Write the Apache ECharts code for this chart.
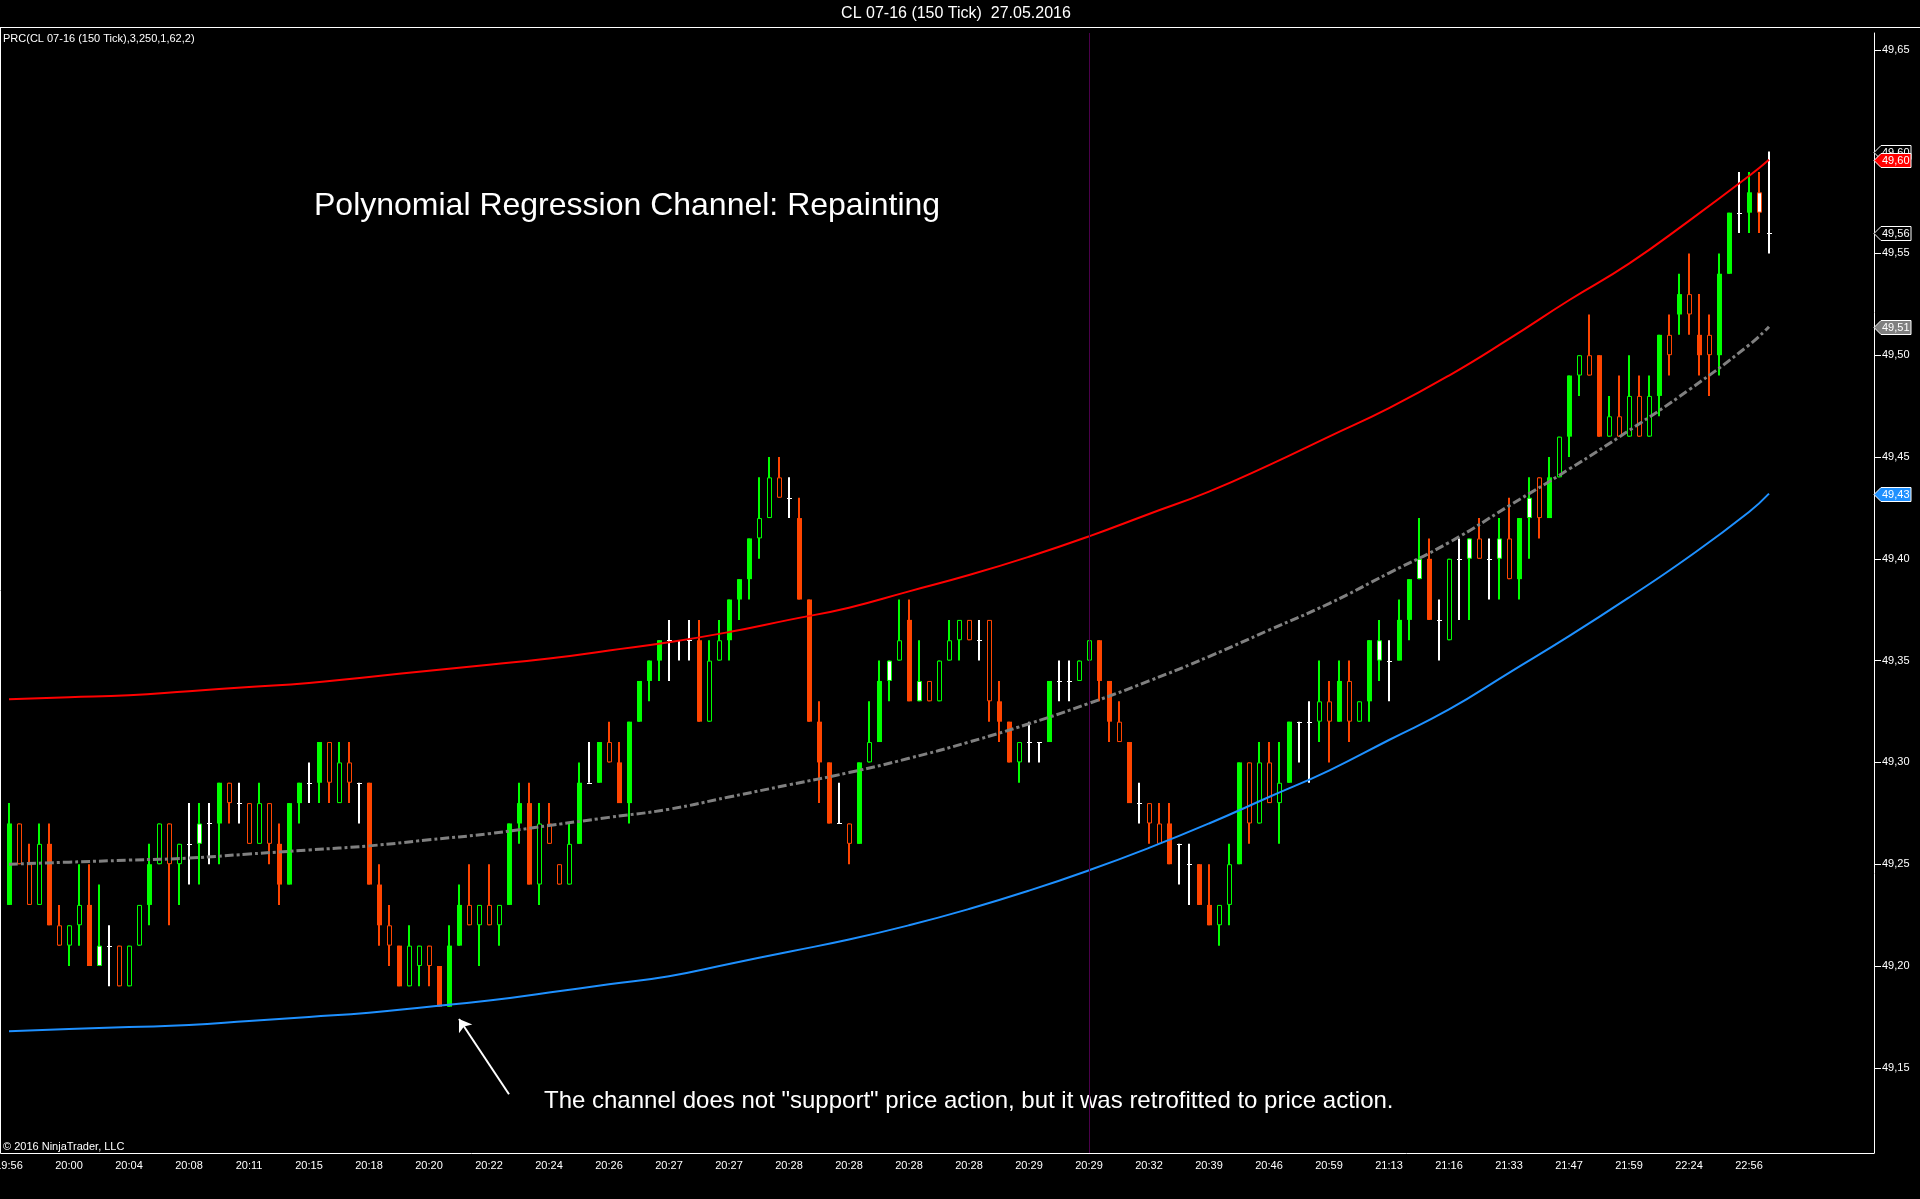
<!DOCTYPE html>
<html>
<head>
<meta charset="utf-8">
<title>CL 07-16 (150 Tick) - Polynomial Regression Channel</title>
<script src="https://cdn.jsdelivr.net/npm/echarts@6.0.0/dist/echarts.min.js"></script>
<style>
html, body { margin: 0; padding: 0; background: #000; overflow: hidden; }
#chart { width: 1920px; height: 1199px; }
</style>
</head>
<body>
<div id="chart"></div>
<script>
// x axis tick labels, one every 6 bars
var tickLabels = ['19:56', '20:00', '20:04', '20:08', '20:11', '20:15', '20:18', '20:20', '20:22', '20:24',
	'20:26', '20:27', '20:27', '20:28', '20:28', '20:28', '20:28', '20:29', '20:29', '20:32',
	'20:39', '20:46', '20:59', '21:13', '21:16', '21:33', '21:47', '21:59', '22:24', '22:56'];

// price axis labels
var priceTicks = [49.15, 49.20, 49.25, 49.30, 49.35, 49.40, 49.45, 49.50, 49.55, 49.60, 49.65];

// 150 tick bars
var opens = [
	49.23, 49.27, 49.25, 49.23, 49.26, 49.22, 49.21, 49.22, 49.23, 49.20,
	49.21, 49.21, 49.19, 49.21, 49.23, 49.25, 49.27, 49.25, 49.26, 49.26,
	49.27, 49.27, 49.29, 49.28, 49.28, 49.26, 49.28, 49.26, 49.24, 49.28,
	49.29, 49.29, 49.31, 49.28, 49.30, 49.29, 49.29, 49.24, 49.22, 49.21,
	49.19, 49.20, 49.21, 49.20, 49.18, 49.21, 49.23, 49.22, 49.23, 49.22,
	49.23, 49.27, 49.28, 49.24, 49.27, 49.25, 49.24, 49.26, 49.29, 49.29,
	49.31, 49.30, 49.28, 49.32, 49.34, 49.35, 49.36, 49.36, 49.36, 49.36,
	49.32, 49.35, 49.36, 49.38, 49.39, 49.41, 49.42, 49.44, 49.43, 49.42,
	49.38, 49.32, 49.30, 49.27, 49.27, 49.26, 49.30, 49.31, 49.34, 49.35,
	49.37, 49.33, 49.34, 49.33, 49.35, 49.36, 49.37, 49.36, 49.37, 49.33,
	49.32, 49.30, 49.31, 49.31, 49.31, 49.34, 49.34, 49.34, 49.35, 49.36,
	49.34, 49.32, 49.31, 49.28, 49.28, 49.27, 49.27, 49.26, 49.25, 49.25,
	49.23, 49.22, 49.23, 49.25, 49.30, 49.27, 49.30, 49.28, 49.29, 49.32,
	49.32, 49.32, 49.33, 49.32, 49.34, 49.32, 49.33, 49.35, 49.35, 49.35,
	49.37, 49.39, 49.40, 49.37, 49.36, 49.40, 49.40, 49.41, 49.40, 49.40,
	49.41, 49.39, 49.42, 49.44, 49.42, 49.44, 49.46, 49.49, 49.50, 49.50,
	49.46, 49.47, 49.46, 49.48, 49.46, 49.48, 49.51, 49.52, 49.53, 49.51,
	49.51, 49.50, 49.54, 49.57, 49.57, 49.58, 49.56
];
var highs = [
	49.28, 49.27, 49.26, 49.27, 49.27, 49.23, 49.22, 49.25, 49.25, 49.24,
	49.22, 49.21, 49.21, 49.23, 49.26, 49.27, 49.27, 49.26, 49.28, 49.28,
	49.28, 49.29, 49.29, 49.29, 49.28, 49.29, 49.28, 49.27, 49.28, 49.29,
	49.30, 49.31, 49.31, 49.31, 49.31, 49.29, 49.29, 49.25, 49.23, 49.21,
	49.22, 49.21, 49.21, 49.20, 49.22, 49.24, 49.25, 49.23, 49.25, 49.23,
	49.27, 49.29, 49.29, 49.28, 49.28, 49.25, 49.27, 49.30, 49.31, 49.31,
	49.32, 49.31, 49.32, 49.34, 49.35, 49.36, 49.37, 49.36, 49.37, 49.37,
	49.36, 49.37, 49.38, 49.39, 49.41, 49.44, 49.45, 49.45, 49.44, 49.43,
	49.38, 49.33, 49.30, 49.29, 49.27, 49.30, 49.33, 49.35, 49.35, 49.38,
	49.38, 49.36, 49.34, 49.35, 49.37, 49.37, 49.37, 49.37, 49.37, 49.34,
	49.32, 49.31, 49.32, 49.31, 49.34, 49.35, 49.35, 49.35, 49.36, 49.36,
	49.34, 49.33, 49.31, 49.29, 49.28, 49.28, 49.28, 49.26, 49.26, 49.25,
	49.25, 49.23, 49.26, 49.30, 49.30, 49.31, 49.31, 49.31, 49.32, 49.32,
	49.33, 49.35, 49.34, 49.35, 49.35, 49.33, 49.36, 49.37, 49.36, 49.38,
	49.39, 49.42, 49.41, 49.38, 49.40, 49.41, 49.41, 49.42, 49.41, 49.42,
	49.43, 49.42, 49.44, 49.44, 49.45, 49.46, 49.49, 49.50, 49.52, 49.50,
	49.48, 49.49, 49.50, 49.49, 49.49, 49.51, 49.52, 49.54, 49.55, 49.53,
	49.52, 49.55, 49.57, 49.59, 49.59, 49.59, 49.60
];
var lows = [
	49.23, 49.25, 49.23, 49.23, 49.22, 49.21, 49.20, 49.21, 49.20, 49.20,
	49.19, 49.19, 49.19, 49.21, 49.22, 49.25, 49.22, 49.23, 49.24, 49.24,
	49.25, 49.25, 49.27, 49.27, 49.26, 49.26, 49.25, 49.23, 49.24, 49.27,
	49.28, 49.28, 49.28, 49.28, 49.28, 49.27, 49.24, 49.21, 49.20, 49.19,
	49.19, 49.19, 49.19, 49.18, 49.18, 49.21, 49.22, 49.20, 49.22, 49.21,
	49.23, 49.26, 49.24, 49.23, 49.26, 49.24, 49.24, 49.26, 49.29, 49.29,
	49.30, 49.28, 49.27, 49.32, 49.33, 49.34, 49.34, 49.35, 49.35, 49.32,
	49.32, 49.35, 49.35, 49.37, 49.38, 49.40, 49.42, 49.43, 49.42, 49.38,
	49.32, 49.28, 49.27, 49.27, 49.25, 49.26, 49.30, 49.31, 49.33, 49.35,
	49.33, 49.33, 49.33, 49.33, 49.35, 49.35, 49.36, 49.35, 49.32, 49.31,
	49.30, 49.29, 49.30, 49.30, 49.31, 49.33, 49.33, 49.34, 49.35, 49.33,
	49.31, 49.31, 49.28, 49.27, 49.26, 49.26, 49.25, 49.24, 49.23, 49.23,
	49.22, 49.21, 49.22, 49.25, 49.26, 49.27, 49.28, 49.26, 49.29, 49.30,
	49.29, 49.31, 49.30, 49.32, 49.31, 49.32, 49.32, 49.34, 49.33, 49.35,
	49.36, 49.39, 49.37, 49.35, 49.36, 49.37, 49.37, 49.40, 49.38, 49.38,
	49.39, 49.38, 49.40, 49.41, 49.42, 49.44, 49.45, 49.48, 49.49, 49.46,
	49.46, 49.46, 49.46, 49.46, 49.46, 49.47, 49.49, 49.51, 49.51, 49.49,
	49.48, 49.49, 49.54, 49.56, 49.56, 49.56, 49.55
];
var closes = [
	49.27, 49.25, 49.23, 49.26, 49.22, 49.21, 49.22, 49.23, 49.20, 49.21,
	49.21, 49.19, 49.21, 49.23, 49.25, 49.27, 49.25, 49.26, 49.26, 49.27,
	49.27, 49.29, 49.28, 49.28, 49.26, 49.28, 49.26, 49.24, 49.28, 49.29,
	49.29, 49.31, 49.29, 49.30, 49.29, 49.29, 49.24, 49.22, 49.21, 49.19,
	49.21, 49.21, 49.20, 49.18, 49.21, 49.23, 49.22, 49.23, 49.22, 49.23,
	49.27, 49.28, 49.24, 49.27, 49.26, 49.24, 49.26, 49.29, 49.29, 49.31,
	49.30, 49.28, 49.32, 49.34, 49.35, 49.36, 49.36, 49.36, 49.36, 49.32,
	49.35, 49.36, 49.38, 49.39, 49.41, 49.42, 49.44, 49.43, 49.43, 49.38,
	49.32, 49.30, 49.27, 49.27, 49.26, 49.30, 49.31, 49.34, 49.35, 49.36,
	49.33, 49.34, 49.33, 49.35, 49.36, 49.37, 49.36, 49.36, 49.33, 49.32,
	49.30, 49.31, 49.31, 49.31, 49.34, 49.34, 49.34, 49.35, 49.36, 49.34,
	49.32, 49.31, 49.28, 49.28, 49.27, 49.26, 49.25, 49.26, 49.25, 49.23,
	49.22, 49.23, 49.25, 49.30, 49.27, 49.30, 49.28, 49.29, 49.32, 49.32,
	49.32, 49.33, 49.32, 49.34, 49.32, 49.33, 49.36, 49.36, 49.35, 49.37,
	49.39, 49.40, 49.37, 49.37, 49.40, 49.40, 49.41, 49.40, 49.40, 49.41,
	49.39, 49.42, 49.43, 49.42, 49.44, 49.46, 49.49, 49.50, 49.49, 49.46,
	49.47, 49.46, 49.48, 49.46, 49.48, 49.51, 49.50, 49.53, 49.52, 49.50,
	49.50, 49.54, 49.57, 49.57, 49.58, 49.57, 49.56
];
// body state per bar: F filled, H hollow, W white inside, D doji
var bodyStates = ('FHHHFHHHFW' + 'DHHHFHHHDW' + 'DFHDHHHFFF' + 'DFHHHDFFHF' + 'HHHFFFHHHH' +
	'FFFHHHHFDF' + 'HFFFFFDDDF' + 'HHFFFHHHDF' + 'FFFDHFHFWH' + 'FWHHHHHDHF' +
	'FHDDFDDHHF' + 'FHFDHHFDDF' + 'FHHFHHHHFD' + 'DHHFHHFWDF' + 'FWFDHDWHDW' +
	'HFWHFHFHHF' + 'HHHHHFHFHF' + 'HFFDFWD').split('');

// regression channel, read every 6 bars
var channelBars = [0, 6, 12, 18, 24, 30, 36, 42, 48, 54, 60, 66, 72, 78, 84, 90,
	96, 102, 108, 114, 120, 126, 132, 138, 144, 150, 156, 162, 168, 174, 176];
var upperBand = [49.331, 49.332, 49.333, 49.335, 49.337, 49.339, 49.342, 49.345, 49.348, 49.351,
	49.355, 49.359, 49.364, 49.370, 49.376, 49.384, 49.392, 49.401, 49.411, 49.422,
	49.433, 49.446, 49.460, 49.474, 49.490, 49.508, 49.527, 49.545, 49.566, 49.588, 49.596];
var middleLine = [49.250, 49.251, 49.252, 49.253, 49.255, 49.257, 49.259, 49.262, 49.265, 49.269,
	49.273, 49.277, 49.283, 49.289, 49.295, 49.302, 49.310, 49.319, 49.329, 49.340,
	49.352, 49.365, 49.378, 49.393, 49.408, 49.426, 49.444, 49.463, 49.483, 49.505, 49.514];
var lowerBand = [49.168, 49.169, 49.170, 49.171, 49.173, 49.175, 49.177, 49.180, 49.183, 49.187,
	49.191, 49.195, 49.201, 49.207, 49.213, 49.220, 49.228, 49.237, 49.247, 49.258,
	49.270, 49.283, 49.296, 49.311, 49.326, 49.344, 49.362, 49.381, 49.401, 49.423, 49.432];

var FONT = '"Liberation Sans", Arial, sans-serif';
var UP = '#00ff00', DOWN = '#ff4500', DOJI = '#ffffff';
var GRID = { left: 4, right: 46, top: 33, bottom: 46 };
var EMPTY_SLOTS = 10;   // free space right of the last bar
var TICK_EVERY = 6;
var MARKER_BAR = 108;   // purple vertical line

var categories = [];
for (var i = 0; i < opens.length + EMPTY_SLOTS; i++) {
	categories.push(String(i));
}

var candleData = [];
for (var i = 0; i < opens.length; i++) {
	candleData.push([i, opens[i], closes[i], lows[i], highs[i]]);
}

function pairs(values) {
	var out = [];
	for (var k = 0; k < channelBars.length; k++) {
		out.push([channelBars[k], values[k]]);
	}
	return out;
}

function fmtPrice(v) {
	return Number(v).toFixed(2).replace('.', ',');
}

function isTickBar(index) {
	return index % TICK_EVERY === 0 && index / TICK_EVERY < tickLabels.length;
}

function renderCandle(params, api) {
	var i = api.value(0);
	var o = api.value(1), c = api.value(2), lo = api.value(3), hi = api.value(4);
	var pO = api.coord([i, o]);
	var x = Math.round(pO[0]);
	var yO = pO[1];
	var yC = api.coord([i, c])[1];
	var yH = api.coord([i, hi])[1];
	var yL = api.coord([i, lo])[1];
	var color = c > o ? UP : (c < o ? DOWN : DOJI);
	var state = bodyStates[i];
	var top = Math.min(yO, yC);
	var h = Math.abs(yO - yC);
	var children = [{
		type: 'line',
		shape: { x1: x, y1: yH, x2: x, y2: yL },
		style: { stroke: color, lineWidth: 2 }
	}];
	if (c === o) {
		var yt = Math.round(yO) + 0.5;
		children.push({
			type: 'line',
			shape: { x1: x - 2, y1: yt, x2: x + 3, y2: yt },
			style: { stroke: color, lineWidth: 1 }
		});
	} else if (state === 'F') {
		children.push({
			type: 'rect',
			shape: { x: x - 2, y: top, width: 5, height: h },
			style: { fill: color }
		});
	} else {
		children.push({
			type: 'rect',
			shape: { x: x - 1.5, y: top + 0.5, width: 4, height: h - 1 },
			style: { fill: state === 'W' ? '#ffffff' : '#000000', stroke: color, lineWidth: 1 }
		});
	}
	return { type: 'group', children: children };
}

var chart = echarts.init(document.getElementById('chart'));

var option = {
	backgroundColor: '#000000',
	animation: false,
	grid: {
		left: GRID.left,
		right: GRID.right,
		top: GRID.top,
		bottom: GRID.bottom,
		containLabel: false,
		outerBoundsMode: 'none'
	},
	xAxis: {
		type: 'category',
		data: categories,
		boundaryGap: true,
		axisLine: { lineStyle: { color: '#ffffff', width: 1 } },
		axisTick: {
			interval: isTickBar,
			alignWithLabel: true,
			length: 6,
			lineStyle: { color: '#ffffff' }
		},
		axisLabel: {
			interval: isTickBar,
			formatter: function (value, index) {
				return tickLabels[index / TICK_EVERY];
			},
			color: '#ffffff',
			fontSize: 11,
			fontFamily: FONT,
			margin: 7
		},
		splitLine: { show: false }
	},
	yAxis: {
		type: 'value',
		position: 'right',
		min: 49.10815,
		max: 49.65825,
		axisLine: { show: true, lineStyle: { color: '#ffffff' } },
		axisTick: {
			show: true,
			customValues: priceTicks,
			length: 7,
			lineStyle: { color: '#ffffff' }
		},
		axisLabel: {
			customValues: priceTicks,
			formatter: fmtPrice,
			color: '#ffffff',
			fontSize: 11,
			fontFamily: FONT,
			margin: 8
		},
		splitLine: { show: false }
	},
	series: [{
		name: 'CL 07-16',
		type: 'custom',
		renderItem: renderCandle,
		data: candleData,
		encode: { x: 0, y: [1, 2, 3, 4] },
		z: 2
	}, {
		name: 'lower',
		type: 'line',
		data: pairs(lowerBand),
		smooth: true,
		showSymbol: false,
		lineStyle: { color: '#1e90ff', width: 2 },
		z: 3,
		markLine: {
			silent: true,
			symbol: 'none',
			label: { show: false },
			lineStyle: { color: '#4b004b', width: 1, type: 'solid' },
			data: [{ xAxis: MARKER_BAR }]
		}
	}, {
		name: 'upper',
		type: 'line',
		data: pairs(upperBand),
		smooth: true,
		showSymbol: false,
		lineStyle: { color: '#ff0000', width: 2 },
		z: 3
	}, {
		name: 'middle',
		type: 'line',
		data: pairs(middleLine),
		smooth: true,
		showSymbol: false,
		lineStyle: { color: '#808080', width: 3, type: [9, 3, 3, 3] },
		z: 4,
		markLine: {
			silent: true,
			symbol: ['none', 'arrow'],
			symbolSize: 12,
			label: { show: false },
			lineStyle: { color: '#ffffff', width: 2, type: 'solid' },
			data: [[{ coord: [50, 49.137] }, { coord: [45, 49.174] }]]
		}
	}]
};
chart.setOption(option);

// texts, frame and price flags on the axis
var axisX = chart.getWidth() - GRID.right;
var last = opens.length - 1;
var flags = [
	{ value: highs[last], fill: '#000000' },
	{ value: closes[last], fill: '#000000' },
	{ value: middleLine[middleLine.length - 1], fill: '#808080' },
	{ value: lowerBand[lowerBand.length - 1], fill: '#1e90ff' },
	{ value: upperBand[upperBand.length - 1], fill: '#ff0000' }
];

var elements = [{
	id: 'topline', type: 'line',
	shape: { x1: 0, y1: 27.5, x2: chart.getWidth(), y2: 27.5 },
	style: { stroke: '#ffffff', lineWidth: 1 }
}, {
	id: 'leftline', type: 'polyline',
	shape: { points: [[0.5, 27.5], [0.5, chart.getHeight() - GRID.bottom + 0.5], [GRID.left + 1, chart.getHeight() - GRID.bottom + 0.5]] },
	style: { stroke: '#ffffff', lineWidth: 1, fill: null }
}, {
	id: 'header', type: 'text', x: 956, y: 13.5,
	style: { text: 'CL 07-16 (150 Tick)  27.05.2016', fill: '#ffffff', font: '16px ' + FONT, textAlign: 'center', textVerticalAlign: 'middle' }
}, {
	id: 'indicator', type: 'text', x: 3, y: 39,
	style: { text: 'PRC(CL 07-16 (150 Tick),3,250,1,62,2)', fill: '#ffffff', font: '11px ' + FONT, textVerticalAlign: 'middle' }
}, {
	id: 'title', type: 'text', x: 314, y: 206,
	style: { text: 'Polynomial Regression Channel: Repainting', fill: '#ffffff', font: '32px ' + FONT, textVerticalAlign: 'middle' }
}, {
	id: 'note', type: 'text', x: 544, y: 1101,
	style: { text: 'The channel does not "support" price action, but it was retrofitted to price action.', fill: '#ffffff', font: '24px ' + FONT, textVerticalAlign: 'middle' }
}, {
	id: 'copyright', type: 'text', x: 3, y: 1147,
	style: { text: '\u00a9 2016 NinjaTrader, LLC', fill: '#ffffff', font: '11px ' + FONT, textVerticalAlign: 'middle' }
}];

flags.forEach(function (f, k) {
	var y = Math.round(chart.convertToPixel({ yAxisIndex: 0 }, f.value)) + 0.5;
	elements.push({
		id: 'flag' + k, type: 'polygon', z: 10 + k * 2,
		shape: { points: [[axisX, y], [axisX + 7, y - 7], [axisX + 37, y - 7], [axisX + 37, y + 7], [axisX + 7, y + 7]] },
		style: { fill: f.fill, stroke: '#ffffff', lineWidth: 1 }
	});
	elements.push({
		id: 'flagtext' + k, type: 'text', z: 11 + k * 2,
		x: axisX + 8, y: y,
		style: { text: fmtPrice(f.value), fill: '#ffffff', font: '11px ' + FONT, textVerticalAlign: 'middle' }
	});
});

chart.setOption({ graphic: elements });
window.addEventListener('resize', chart.resize);
</script>
</body>
</html>
